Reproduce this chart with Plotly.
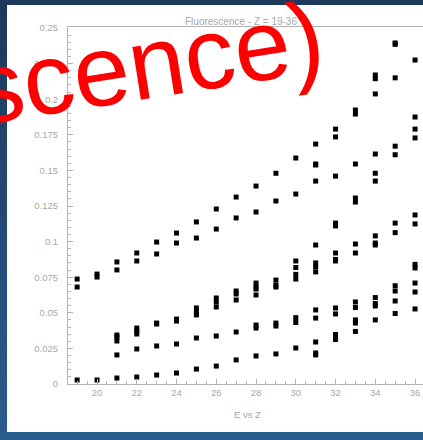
import plotly.graph_objects as go

# ---- data (Z, value) ----
upper_z = [19, 19, 20, 20, 21, 21, 22, 22, 23, 23, 24, 24, 25, 25, 26, 26, 27, 27, 28, 28,
           29, 29, 30, 30, 31, 31, 31, 31, 32, 32, 32, 33, 33, 33, 33, 33,
           34, 34, 34, 34, 34, 34, 35, 35, 35, 35, 35, 36, 36, 36, 36]
upper_y = [0.0737, 0.0681, 0.0772, 0.0751, 0.0857, 0.0801, 0.0920, 0.0864, 0.0997, 0.0913,
           0.1060, 0.0990, 0.1138, 0.1025, 0.1229, 0.1088, 0.1313, 0.1166, 0.1390, 0.1208,
           0.1480, 0.1285, 0.1587, 0.1334, 0.1685, 0.1545, 0.1538, 0.1425, 0.1790, 0.1735, 0.1460,
           0.1924, 0.1896, 0.1545, 0.1306, 0.1278,
           0.2170, 0.2144, 0.2037, 0.1615, 0.1480, 0.1425,
           0.2395, 0.2385, 0.2150, 0.1670, 0.1610,
           0.2275, 0.1875, 0.1790, 0.1728]

middle_z = [21, 21, 21, 21, 22, 22, 22, 22, 23, 23, 23, 24, 24, 24, 25, 25, 25, 25,
            26, 26, 26, 26, 27, 27, 27, 27, 28, 28, 28, 28, 28, 28, 29, 29, 29, 29, 29,
            30, 30, 30, 30, 30, 30, 31, 31, 31, 31, 31, 31, 31, 31, 31,
            32, 32, 32, 32, 32, 32, 32, 32, 32, 32,
            33, 33, 33, 33, 33, 33, 33,
            34, 34, 34, 34, 34, 34, 34,
            35, 35, 35, 35, 35, 35,
            36, 36, 36, 36, 36, 36, 36]
middle_y = [0.0344, 0.0330, 0.0302, 0.0204, 0.0393, 0.0372, 0.0351, 0.0246,
            0.0428, 0.0421, 0.0267, 0.0456, 0.0442, 0.0281,
            0.0534, 0.0506, 0.0485, 0.0323, 0.0604, 0.0576, 0.0541, 0.0337,
            0.0653, 0.0632, 0.0590, 0.0365, 0.0709, 0.0681, 0.0667, 0.0625, 0.0414, 0.0393,
            0.0730, 0.0695, 0.0681, 0.0428, 0.0407,
            0.0864, 0.0818, 0.0770, 0.0737, 0.0466, 0.0432,
            0.0976, 0.0850, 0.0822, 0.0787, 0.0520, 0.0463, 0.0295, 0.0218, 0.0204,
            0.1130, 0.1110, 0.0920, 0.0875, 0.0864, 0.0534, 0.0492, 0.0348, 0.0330, 0.0312,
            0.0983, 0.0920, 0.0576, 0.0537, 0.0450, 0.0428, 0.0369,
            0.1040, 0.0990, 0.0976, 0.0607, 0.0565, 0.0548, 0.0450,
            0.1130, 0.1063, 0.0690, 0.0653, 0.0583, 0.0495,
            0.1187, 0.1124, 0.0840, 0.0815, 0.0709, 0.0646, 0.0527]

lower_z = [19, 20, 21, 22, 23, 24, 25, 26, 27, 28, 29, 30]
lower_y = [0.0028, 0.0028, 0.0042, 0.0049, 0.0063, 0.0077, 0.0105, 0.0126, 0.0169,
           0.0197, 0.0211, 0.0253]

x_ticks = [20, 22, 24, 26, 28, 30, 32, 34, 36]
y_ticks = [0, 0.025, 0.05, 0.075, 0.1, 0.125, 0.15, 0.175, 0.2, 0.225, 0.25]
y_tick_text = ["0", "0.025", "0.05", "0.075", "0.1", "0.125", "0.15", "0.175", "0.2", "0.225", "0.25"]

GRAY = "#b4b4b4"
TXT = "#a8a8a8"
FONT = "Liberation Sans, Arial, sans-serif"

fig = go.Figure()
marker = dict(symbol="square", size=5, color="#000000", line=dict(width=0))
for zs, ys in [(upper_z, upper_y), (middle_z, middle_y), (lower_z, lower_y)]:
    fig.add_trace(go.Scatter(x=zs, y=ys, mode="markers", marker=marker,
                             showlegend=False, hoverinfo="skip", cliponaxis=False))

# background gradient bands + white panel (decoration)
shapes = []
W, H = 423, 440
L, T, B = 68, 27, 384
PW, PH = W - L, B - T
def px_x(p):
    return (p - L) / PW
def px_y(p):
    return (B - p) / PH
nb = 22
c0 = (0x1c, 0x39, 0x5c)
c1 = (0x2b, 0x5c, 0x8e)
for i in range(nb):
    f = i / (nb - 1)
    col = "rgb(%d,%d,%d)" % tuple(int(c0[k] + (c1[k] - c0[k]) * f) for k in range(3))
    shapes.append(dict(type="rect", xref="paper", yref="paper", layer="below",
                       x0=px_x(-2), x1=px_x(W + 2),
                       y0=px_y(i * H / nb - 1), y1=px_y((i + 1) * H / nb + 1),
                       fillcolor=col, line=dict(width=0)))
shapes.append(dict(type="rect", xref="paper", yref="paper", layer="below",
                   x0=px_x(7), x1=px_x(W + 5), y0=px_y(5), y1=px_y(432),
                   fillcolor="#ffffff", line=dict(width=0)))

annotations = [
    dict(text="Fluorescence - Z = 19-36", xref="paper", yref="paper",
         x=px_x(183), y=px_y(21), xanchor="left", yanchor="middle", showarrow=False,
         font=dict(family=FONT, size=10, color=TXT)),
    dict(text="E vs Z", xref="paper", yref="paper",
         x=px_x(247), y=px_y(414), xanchor="center", yanchor="middle", showarrow=False,
         font=dict(family=FONT, size=9.5, color=TXT)),
    dict(text="scence)", xref="paper", yref="paper",
         x=px_x(148), y=px_y(63), xanchor="center", yanchor="middle", showarrow=False,
         textangle=-9,
         font=dict(family=FONT, size=101, color="#ff0000")),
]

fig.update_layout(
    width=W, height=H,
    margin=dict(l=L, r=0, t=T, b=H - B, pad=0, autoexpand=False),
    paper_bgcolor="#24496f",
    plot_bgcolor="rgba(0,0,0,0)",
    shapes=shapes,
    annotations=annotations,
    showlegend=False,
    xaxis=dict(range=[18.54, 36.40], tickmode="array", tickvals=x_ticks,
               ticks="inside", ticklen=5, tickcolor=GRAY, tickwidth=1,
               showline=True, linecolor=GRAY, linewidth=1, mirror=True,
               showgrid=False, zeroline=False, automargin=False,
               tickfont=dict(family=FONT, size=9.5, color=TXT),
               minor=dict(dtick=0.5, tick0=0, ticks="inside", ticklen=3, tickcolor=GRAY, showgrid=False)),
    yaxis=dict(range=[0, 0.2507], tickmode="array", tickvals=y_ticks, ticktext=y_tick_text,
               ticks="inside", ticklen=5, tickcolor=GRAY, tickwidth=1,
               showline=True, linecolor=GRAY, linewidth=1,
               showgrid=False, zeroline=False, ticklabelstandoff=7, automargin=False,
               tickfont=dict(family=FONT, size=9.5, color=TXT),
               minor=dict(dtick=0.005, tick0=0, ticks="inside", ticklen=3, tickcolor=GRAY, showgrid=False)),
)

fig.write_html("out.html", config={"displayModeBar": False},
               post_script="document.body.style.margin='0';document.body.style.padding='0';"
                           "document.body.style.overflow='hidden';"
                           "document.documentElement.style.overflow='hidden';")
